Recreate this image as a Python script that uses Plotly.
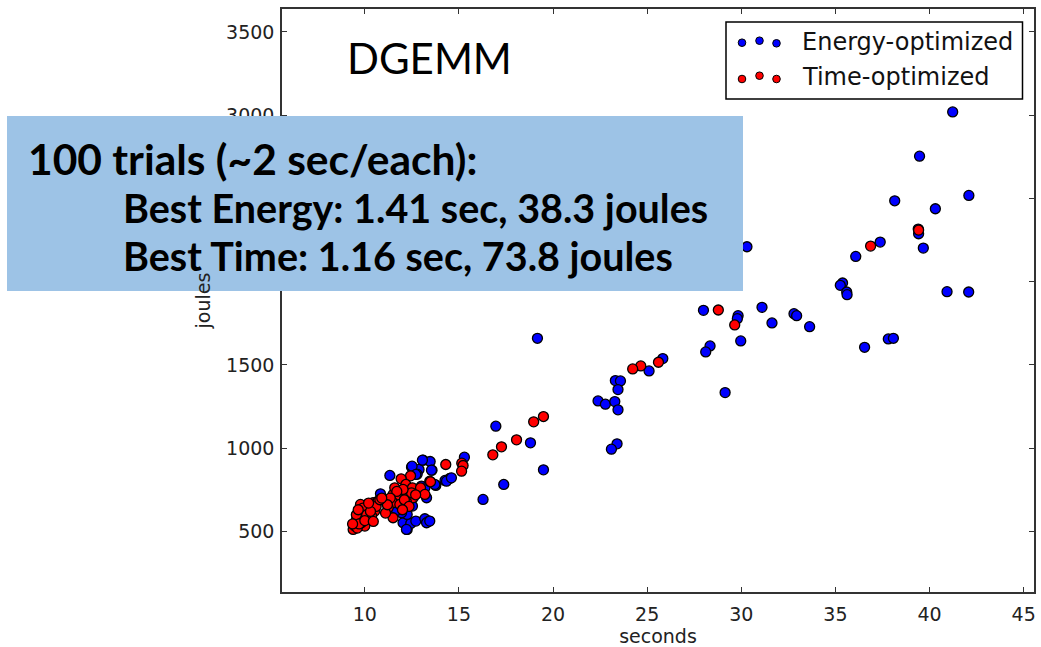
import plotly.graph_objects as go

# ---------------- data ----------------
energy_sec = [41.23, 39.47, 38.15, 42.09, 40.31, 39.40, 39.42, 39.67, 37.38, 36.08,
              30.30, 35.38, 35.26, 35.60, 35.62, 40.93, 42.08, 27.99, 29.83, 29.79,
              31.10, 31.63, 32.80, 32.94, 33.63, 28.34, 28.11, 29.97, 36.55, 37.81,
              38.08, 19.17, 29.14, 25.83, 25.10, 23.31, 23.58, 23.45, 22.39, 22.78,
              23.28, 23.45, 23.40, 23.10, 16.96, 18.80, 19.49, 15.29, 17.38, 16.28,
              14.51, 14.26, 13.77, 13.10, 13.47, 13.57, 12.48, 12.88, 12.78, 11.33,
              12.03, 12.25, 12.44, 12.71, 13.19, 13.41, 13.28, 12.53, 12.25, 11.95,
              10.83, 13.28, 13.01, 13.19, 11.68, 14.34, 12.51, 13.06, 13.54, 12.71,
              12.21, 13.45, 14.60, 13.72]
energy_joules = [3020, 2754, 2486, 2518, 2438, 2316, 2288, 2202, 2238, 2152,
                 2210, 1992, 1978, 1938, 1922, 1940, 1938, 1828, 1796, 1778,
                 1846, 1752, 1808, 1796, 1730, 1614, 1578, 1644, 1606, 1656,
                 1660, 1660, 1334, 1538, 1464, 1406, 1404, 1352, 1284, 1264,
                 1280, 1230, 1026, 994, 1132, 1032, 870, 946, 782, 692,
                 818, 806, 776, 928, 920, 868, 886, 872, 844, 836,
                 552, 512, 548, 562, 576, 562, 552, 652, 602, 612,
                 726, 702, 772, 762, 626, 802, 892, 928, 868, 842,
                 512, 562, 822, 782]

time_sec = [39.42, 36.87, 28.78, 29.65, 25.60, 24.66, 24.23, 18.97, 19.49, 18.06,
            17.26, 16.80, 15.15, 15.22, 15.14, 14.30, 12.43,
            11.93, 12.18, 12.53, 12.96, 13.19, 13.45, 11.50, 11.86, 12.25,
            12.57, 11.50, 11.24, 11.86, 12.21, 12.48, 11.59, 12.03, 11.50,
            13.49, 11.70, 12.10, 12.35, 11.35, 12.00, 11.10, 12.70, 11.20,
            9.38, 9.77, 10.12, 10.44, 10.53, 10.71, 9.70, 9.91, 9.56, 10.23,
            10.00, 9.47, 10.36, 9.82, 9.60, 9.90, 10.10, 10.60, 9.55, 10.30,
            10.80, 9.70, 10.00, 10.45, 9.35, 10.20, 10.90, 9.65]
time_joules = [2310, 2214, 1830, 1740, 1516, 1494, 1476, 1158, 1190, 1050,
               1008, 960, 910, 896, 862, 902, 834,
               816, 782, 762, 762, 722, 802, 722, 712, 708,
               702, 672, 642, 662, 676, 732, 762, 752, 582,
               798, 740, 690, 650, 700, 630, 610, 720, 660,
               512, 662, 642, 672, 622, 682, 612, 592, 572, 572,
               532, 532, 592, 552, 520, 640, 600, 650, 600, 620,
               690, 545, 565, 560, 545, 670, 700, 630]

x_ticks = [10, 15, 20, 25, 30, 35, 40, 45]
y_ticks = [500, 1000, 1500, 2000, 2500, 3000, 3500]
# 2000 and 2500 sit behind the callout box in the reference, so no visible label
y_tick_text = ["500", "1000", "1500", "", "", "3000", "3500"]
x_range = [5.6, 45.55]
y_range = [136, 3638]

series_names = ["Energy-optimized", "Time-optimized"]
series_colors = ["#0000FF", "#FF0000"]

title_text = "DGEMM"
box_lines = ["100 trials (~2 sec/each):",
             "Best Energy: 1.41 sec, 38.3 joules",
             "Best Time: 1.16 sec, 73.8 joules"]

# ---------------- figure ----------------
W, H = 1041, 647
L, R, T, B = 282, 7, 9, 55
PW, PH = W - L - R, H - T - B


def px_x(px):
    return (px - L) / PW


def px_y(py):
    return (H - B - py) / PH


fig = go.Figure()
for xs, ys, name, col in [(energy_sec, energy_joules, series_names[0], series_colors[0]),
                          (time_sec, time_joules, series_names[1], series_colors[1])]:
    fig.add_trace(go.Scatter(
        x=xs, y=ys, mode="markers", name=name,
        marker=dict(size=10, color=col, line=dict(color="black", width=1.3)),
        showlegend=False, cliponaxis=False))

axis_common = dict(
    showgrid=False, zeroline=False, showline=True, linecolor="#333333", linewidth=1.5,
    mirror="ticks", ticks="inside", ticklen=5, tickwidth=1, tickcolor="#333333",
    tickfont=dict(family="DejaVu Sans", size=19, color="#222222"),
    automargin=False,
)

fig.update_layout(
    width=W, height=H,
    margin=dict(l=L, r=R, t=T, b=B, autoexpand=False),
    paper_bgcolor="white", plot_bgcolor="white",
    xaxis=dict(range=x_range, tickvals=x_ticks, ticklabelstandoff=4,
               title=dict(text="seconds", standoff=13,
                          font=dict(family="DejaVu Sans", size=19, color="#222222")),
               **axis_common),
    yaxis=dict(range=y_range, tickvals=y_ticks, ticktext=y_tick_text, ticklabelstandoff=2,
               title=dict(text="joules", standoff=10,
                          font=dict(family="DejaVu Sans", size=19, color="#222222")),
               **axis_common),
    showlegend=False,
)

shapes = []
annotations = []

# overlay text box (slide callout)
shapes.append(dict(type="rect", xref="paper", yref="paper",
                   x0=px_x(7), x1=px_x(743), y0=px_y(291), y1=px_y(116),
                   fillcolor="#9DC3E6", line=dict(width=0), layer="above"))
box_pos = [(26, 158, 42.5), (121, 208, 39.5), (121, 255, 39.5)]
for txt, (bx, by, fs) in zip(box_lines, box_pos):
    annotations.append(dict(text="<b>" + txt + "</b>", xref="paper", yref="paper",
                            x=px_x(bx), y=px_y(by), xanchor="left", yanchor="middle",
                            showarrow=False,
                            font=dict(family="Lato", size=fs, color="black")))

# DGEMM title
annotations.append(dict(text=title_text, xref="paper", yref="paper",
                        x=px_x(345), y=px_y(58), xanchor="left", yanchor="middle",
                        showarrow=False, font=dict(family="Lato", size=42, color="black")))

# legend (drawn manually: matplotlib style with three scatter points)
shapes.append(dict(type="rect", xref="paper", yref="paper",
                   x0=px_x(726), x1=px_x(1022.5), y0=px_y(99), y1=px_y(22),
                   fillcolor="white", line=dict(color="black", width=1.5), layer="above"))
legend_rows = [(42, [0.7, -1.3, 1.3]), (77, [2.0, -1.3, 2.0])]
legend_dx = [742, 759.5, 776.5]
for (row_y, offs), name, col in zip(legend_rows, series_names, series_colors):
    for dx, oy in zip(legend_dx, offs):
        shapes.append(dict(type="circle", xref="paper", yref="paper",
                           xsizemode="pixel", ysizemode="pixel",
                           xanchor=px_x(dx), yanchor=px_y(row_y + oy),
                           x0=-3.8, x1=3.8, y0=-3.8, y1=3.8,
                           fillcolor=col, line=dict(color="black", width=1),
                           layer="above"))
    annotations.append(dict(text=name, xref="paper", yref="paper",
                            x=px_x(800), y=px_y(row_y), xanchor="left", yanchor="middle",
                            showarrow=False,
                            font=dict(family="DejaVu Sans", size=24, color="#111111")))

fig.update_layout(shapes=shapes, annotations=annotations)
fig.write_html("out.html")
